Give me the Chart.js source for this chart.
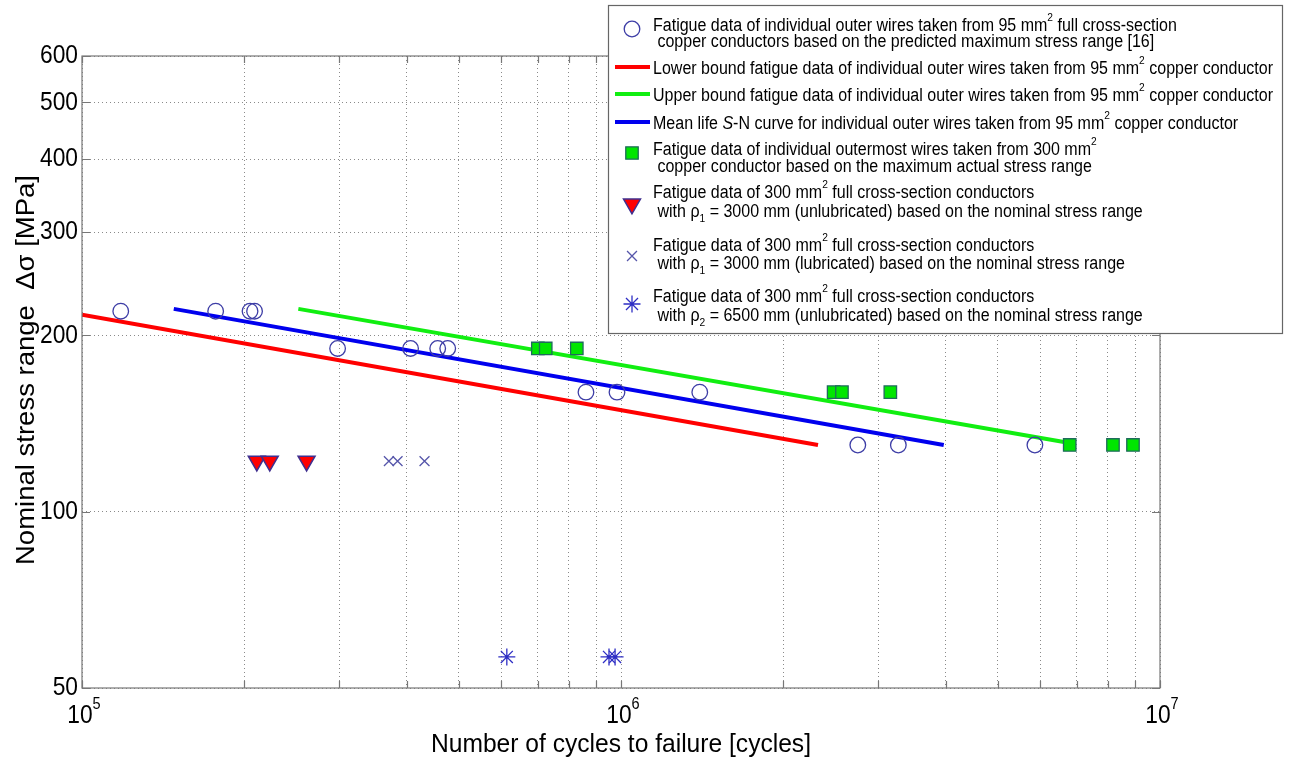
<!DOCTYPE html>
<html lang="en">
<head>
<meta charset="utf-8">
<title>S-N fatigue data of copper conductor wires</title>
<style>
  html, body { margin: 0; padding: 0; background: #fff; }
  #wrap { width: 1298px; height: 760px; }
</style>
</head>
<body>
<div id="wrap"><canvas id="snChart"></canvas></div>
<script src="https://cdn.jsdelivr.net/npm/chart.js"></script>
<script>
// values (cycles, MPa)
const outerWireN = [118000, 177000, 205000, 209000, 298000, 407000, 457000, 477000, 861000, 983000, 1400000, 2750000, 3270000, 5860000];
const outerWireS = [220, 220, 220, 220, 190, 190, 190, 190, 160, 160, 160, 130, 130, 130];

const lowerBoundN = [100000, 2320000];
const lowerBoundS = [217, 130];
const upperBoundN = [252000, 6800000];
const upperBoundS = [222, 131];
const meanLifeN = [148000, 3970000];
const meanLifeS = [222, 130];

const outermostN = [701000, 725000, 828000, 2480000, 2570000, 3160000, 6800000, 8180000, 8910000];
const outermostS = [190, 190, 190, 160, 160, 160, 130, 130, 130];

const rho1DryN = [211000, 223000, 261000];
const rho1DryS = [122, 122, 122];
const rho1LubN = [371000, 385000, 432000];
const rho1LubS = [122, 122, 122];
const rho2DryN = [614000, 950000, 975000];
const rho2DryS = [56.5, 56.5, 56.5];

const xTickValues = [1e5, 2e5, 3e5, 4e5, 5e5, 6e5, 7e5, 8e5, 9e5,
                     1e6, 2e6, 3e6, 4e6, 5e6, 6e6, 7e6, 8e6, 9e6, 1e7];
const xTickLabels = [[1e5, '10^{5}'], [1e6, '10^{6}'], [1e7, '10^{7}']];
const yTickValues = [50, 100, 200, 300, 400, 500, 600];

const xTitle = 'Number of cycles to failure [cycles]';
const yTitle = 'Nominal stress range  Δσ [MPa]';

const legendLabels = [
  ['Fatigue data of individual outer wires taken from 95 mm^{2} full cross-section',
   ' copper conductors based on the predicted maximum stress range [16]'],
  ['Lower bound fatigue data of individual outer wires taken from 95 mm^{2} copper conductor'],
  ['Upper bound fatigue data of individual outer wires taken from 95 mm^{2} copper conductor'],
  ['Mean life *{S}-N curve for individual outer wires taken from 95 mm^{2} copper conductor'],
  ['Fatigue data of individual outermost wires taken from 300 mm^{2}',
   ' copper conductor based on the maximum actual stress range'],
  ['Fatigue data of 300 mm^{2} full cross-section conductors',
   ' with ρ_{1} = 3000 mm (unlubricated) based on the nominal stress range'],
  ['Fatigue data of 300 mm^{2} full cross-section conductors',
   ' with ρ_{1} = 3000 mm (lubricated) based on the nominal stress range'],
  ['Fatigue data of 300 mm^{2} full cross-section conductors',
   ' with ρ_{2} = 6500 mm (unlubricated) based on the nominal stress range']
];

function pairs(xs, ys) {
  return xs.map((x, i) => ({ x: x, y: ys[i] }));
}

// ---- text helpers (sup/sub/italic markup) ----
const FONT = '"Liberation Sans", Arial, Helvetica, sans-serif';

function richParts(str) {
  return str.split(/(\^\{[^}]*\}|_\{[^}]*\}|\*\{[^}]*\})/).filter(Boolean).map(p => {
    if (p.startsWith('^{')) return { t: p.slice(2, -1), k: 'sup' };
    if (p.startsWith('_{')) return { t: p.slice(2, -1), k: 'sub' };
    if (p.startsWith('*{')) return { t: p.slice(2, -1), k: 'it' };
    return { t: p, k: '' };
  });
}
function partFont(k, size) {
  const fs = (k === 'sup' || k === 'sub') ? size * 0.64 : size;
  return (k === 'it' ? 'italic ' : '') + fs.toFixed(1) + 'px ' + FONT;
}
function richWidth(ctx, str, size) {
  let w = 0;
  richParts(str).forEach(p => { ctx.font = partFont(p.k, size); w += ctx.measureText(p.t).width; });
  return w;
}
function drawRich(ctx, str, x, y, size, sx, align) {
  const w = richWidth(ctx, str, size);
  ctx.save();
  ctx.translate(x, y);
  ctx.scale(sx, 1);
  ctx.textBaseline = 'middle';
  ctx.textAlign = 'left';
  let cx = align === 'center' ? -w / 2 : (align === 'right' ? -w : 0);
  richParts(str).forEach(p => {
    ctx.font = partFont(p.k, size);
    const dy = p.k === 'sup' ? -size * 0.44 : (p.k === 'sub' ? size * 0.36 : 0);
    ctx.fillText(p.t, cx, dy);
    cx += ctx.measureText(p.t).width;
  });
  ctx.restore();
}

// ---- axes frame, inward ticks, labels ----
const axesDecor = {
  id: 'axesDecor',
  afterDatasetsDraw(chart) {
    const ctx = chart.ctx;
    const a = chart.chartArea;
    const xs = chart.scales.x, ys = chart.scales.y;
    ctx.save();
    ctx.strokeStyle = '#777';
    ctx.lineWidth = 1.2;
    ctx.strokeRect(a.left, a.top, a.right - a.left, a.bottom - a.top);
    ctx.beginPath();
    xTickValues.forEach(v => {
      const px = Math.round(xs.getPixelForValue(v)) + 0.5;
      ctx.moveTo(px, a.bottom); ctx.lineTo(px, a.bottom - 7);
      ctx.moveTo(px, a.top); ctx.lineTo(px, a.top + 7);
    });
    yTickValues.forEach(v => {
      const py = Math.round(ys.getPixelForValue(v)) + 0.5;
      ctx.moveTo(a.left, py); ctx.lineTo(a.left + 8, py);
      ctx.moveTo(a.right, py); ctx.lineTo(a.right - 8, py);
    });
    ctx.stroke();

    ctx.fillStyle = '#000';
    const tickSize = 26;
    const tsx = 38 / richWidth(ctx, '600', tickSize);
    yTickValues.forEach(v => {
      drawRich(ctx, String(v), a.left - 4, ys.getPixelForValue(v), tickSize, tsx, 'right');
    });
    xTickLabels.forEach(t => {
      drawRich(ctx, t[1], xs.getPixelForValue(t[0]) + 2, a.bottom + 28, tickSize, tsx, 'center');
    });

    const titleSize = 26;
    drawRich(ctx, xTitle, (a.left + a.right) / 2, a.bottom + 57, titleSize,
      380 / richWidth(ctx, xTitle, titleSize), 'center');
    ctx.save();
    ctx.translate(27, 370);
    ctx.rotate(-Math.PI / 2);
    drawRich(ctx, yTitle, 0, 0, titleSize, 390 / richWidth(ctx, yTitle, titleSize), 'center');
    ctx.restore();
    ctx.restore();
  }
};

// ---- boxed legend in the upper right ----
const legendRows = [
  { m: 29, t: [26, 42] },
  { m: 67, t: [69] },
  { m: 94, t: [96] },
  { m: 122, t: [124] },
  { m: 153, t: [150, 167] },
  { m: 204, t: [193, 212] },
  { m: 256, t: [246, 264] },
  { m: 304, t: [297, 316] }
];
const boxLegend = {
  id: 'boxLegend',
  afterDraw(chart) {
    const ctx = chart.ctx;
    const bx = 608, by = 5, bw = 674, bh = 328;
    ctx.save();
    ctx.fillStyle = '#fff';
    ctx.fillRect(bx, by, bw, bh);
    ctx.strokeStyle = '#666';
    ctx.lineWidth = 1.2;
    ctx.strokeRect(bx + 0.5, by + 0.5, bw, bh);

    const size = 18;
    const sx = 620 / richWidth(ctx, legendLabels[1][0], size);
    chart.data.datasets.forEach((ds, i) => {
      const row = legendRows[i];
      if (ds.showLine) {
        ctx.strokeStyle = ds.borderColor;
        ctx.lineWidth = ds.borderWidth;
        ctx.beginPath();
        ctx.moveTo(615, row.m); ctx.lineTo(650, row.m);
        ctx.stroke();
      } else {
        ctx.strokeStyle = ds.borderColor;
        ctx.fillStyle = ds.backgroundColor;
        ctx.lineWidth = ds.pointBorderWidth;
        Chart.helpers.drawPoint(ctx, {
          pointStyle: ds.pointStyle,
          radius: ds.pointRadius,
          rotation: ds.pointRotation || 0,
          borderWidth: ds.pointBorderWidth
        }, 632, row.m);
      }
      ctx.fillStyle = '#000';
      legendLabels[i].forEach((line, j) => {
        drawRich(ctx, line, 653, row.t[j], size, sx, 'left');
      });
    });
    ctx.restore();
  }
};

function markerSet(xs, ys, style, radius, fill, stroke, width, rotation) {
  return {
    data: pairs(xs, ys), showLine: false, order: 0,
    pointStyle: style, pointRadius: radius, pointHoverRadius: radius,
    pointRotation: rotation || 0,
    backgroundColor: fill, borderColor: stroke, pointBorderWidth: width
  };
}
function lineSet(xs, ys, color) {
  return {
    data: pairs(xs, ys), showLine: true, order: 1,
    borderColor: color, borderWidth: 4, pointRadius: 0, pointHoverRadius: 0,
    backgroundColor: color, fill: false
  };
}

const datasets = [
  markerSet(outerWireN, outerWireS, 'circle', 7.8, 'rgba(0,0,0,0)', '#3d3da6', 1.3),
  lineSet(lowerBoundN, lowerBoundS, '#ff0000'),
  lineSet(upperBoundN, upperBoundS, '#11ee11'),
  lineSet(meanLifeN, meanLifeS, '#0000ee'),
  markerSet(outermostN, outermostS, 'rect', 8.8, '#00e600', '#1f6a5c', 1.3),
  markerSet(rho1DryN, rho1DryS, 'triangle', 9.8, '#ff0000', '#3f2f8f', 1.5, 180),
  markerSet(rho1LubN, rho1LubS, 'crossRot', 7, 'rgba(0,0,0,0)', '#5656aa', 1.3),
  markerSet(rho2DryN, rho2DryS, 'star', 8.5, 'rgba(0,0,0,0)', '#2e2ec4', 1.3)
];

new Chart(document.getElementById('snChart'), {
  type: 'scatter',
  data: { datasets: datasets },
  options: {
    responsive: true,
    maintainAspectRatio: false,
    animation: false,
    events: [],
    layout: { padding: { left: 82, right: 138, top: 56, bottom: 72 } },
    plugins: { legend: { display: false }, tooltip: { enabled: false } },
    scales: {
      x: {
        type: 'logarithmic', min: 1e5, max: 1e7,
        afterBuildTicks: s => { s.ticks = xTickValues.map(v => ({ value: v })); },
        ticks: { display: false },
        grid: { color: '#8a8a8a', lineWidth: 1, drawTicks: false },
        border: { display: false, dash: [1, 3] }
      },
      y: {
        type: 'logarithmic', min: 50, max: 600,
        afterBuildTicks: s => { s.ticks = yTickValues.map(v => ({ value: v })); },
        ticks: { display: false },
        grid: { color: '#8a8a8a', lineWidth: 1, drawTicks: false },
        border: { display: false, dash: [1, 3] }
      }
    }
  },
  plugins: [axesDecor, boxLegend]
});
</script>
</body>
</html>
